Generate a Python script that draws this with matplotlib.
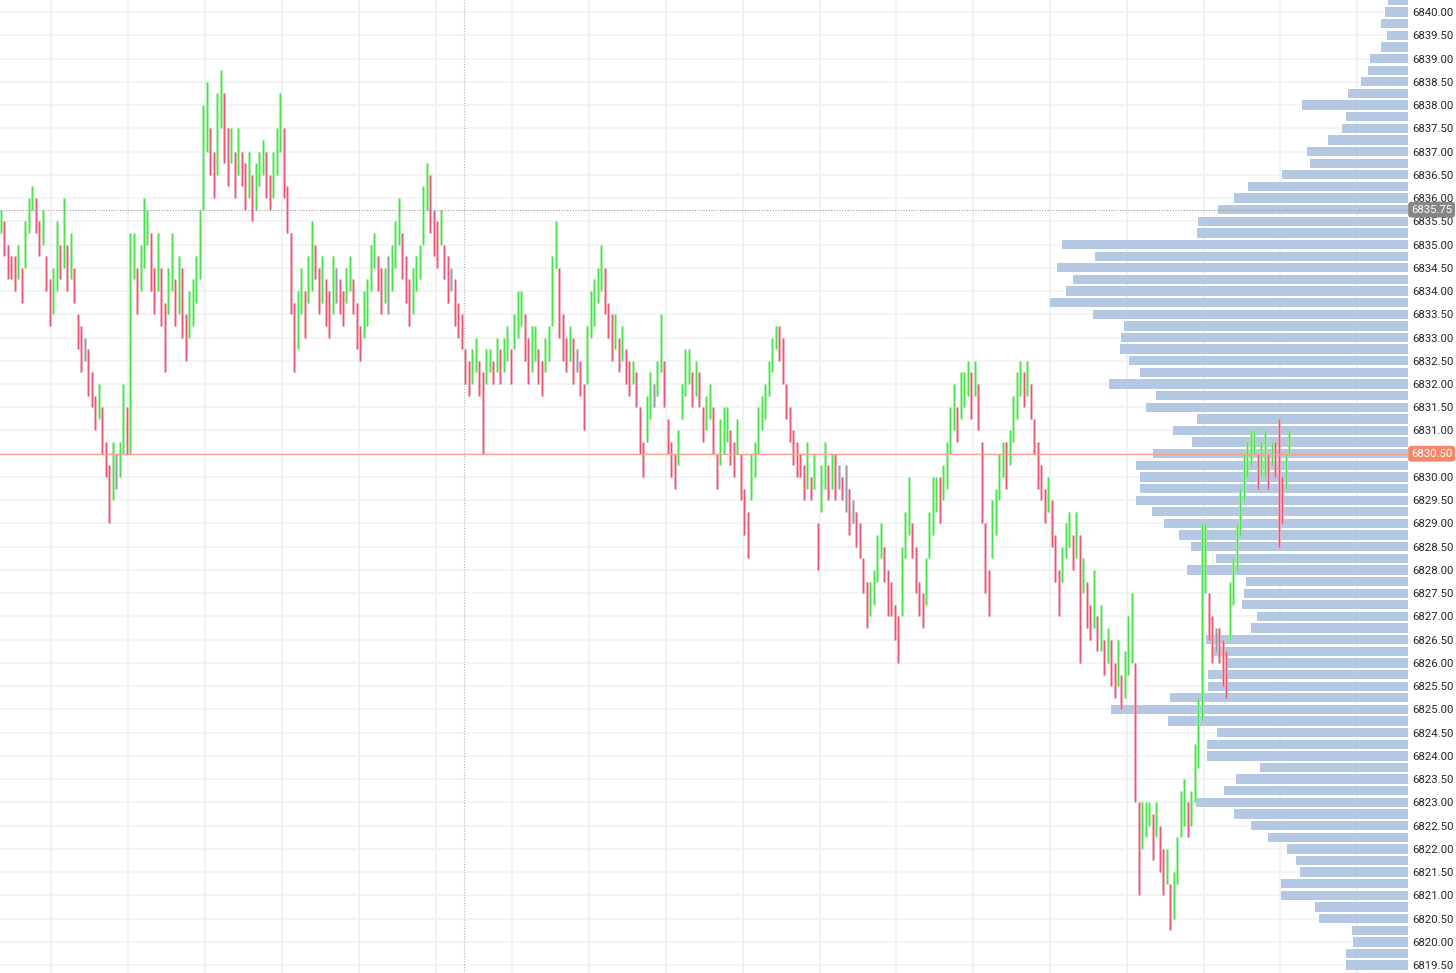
import numpy as np
import matplotlib.pyplot as plt
from matplotlib import transforms

plt.rcParams['font.family'] = ['Roboto', 'DejaVu Sans']

# range bars: low / high of every bar, left to right
bar_low = [
    6835.25, 6834.75, 6834.25, 6834.25, 6834.0, 6834.25, 6833.75, 6834.5, 6835.25, 6835.75,
    6835.25, 6834.75, 6835.0, 6834.0, 6833.25, 6833.5, 6834.0, 6834.25, 6834.5, 6834.0,
    6834.25, 6833.75, 6832.75, 6832.25, 6832.5, 6831.75, 6831.5, 6831.0, 6831.25, 6830.5,
    6830.0, 6829.0, 6829.5, 6829.75, 6830.0, 6830.5, 6830.5, 6830.5, 6834.25, 6833.5,
    6834.0, 6834.5, 6835.0, 6834.0, 6833.5, 6834.0, 6833.25, 6832.25, 6833.5, 6834.0,
    6833.25, 6833.5, 6833.0, 6832.5, 6833.0, 6833.25, 6833.75, 6834.25, 6835.75, 6837.0,
    6836.5, 6836.0, 6836.5, 6837.5, 6836.75, 6836.25, 6836.75, 6836.0, 6836.5, 6836.25,
    6835.75, 6836.0, 6835.5, 6835.75, 6836.25, 6836.5, 6836.0, 6835.75, 6836.0, 6836.5,
    6837.0, 6836.0, 6835.25, 6833.5, 6832.25, 6832.75, 6833.5, 6833.0, 6833.75, 6834.0,
    6834.25, 6833.5, 6833.75, 6833.25, 6833.0, 6833.5, 6833.75, 6833.5, 6833.25, 6833.75,
    6834.0, 6833.5, 6832.75, 6832.5, 6833.0, 6833.25, 6834.0, 6834.5, 6834.0, 6833.5,
    6833.75, 6833.5, 6834.0, 6834.5, 6835.0, 6834.25, 6833.75, 6833.25, 6833.5, 6834.0,
    6834.25, 6835.0, 6835.75, 6835.25, 6834.75, 6834.5, 6835.0, 6834.25, 6833.75, 6834.0,
    6833.25, 6833.0, 6832.75, 6832.0, 6831.75, 6832.0, 6832.25, 6831.75, 6830.5, 6832.0,
    6832.25, 6832.0, 6832.25, 6832.0, 6832.25, 6832.5, 6832.0, 6832.75, 6833.0, 6833.25,
    6832.5, 6832.0, 6832.25, 6832.5, 6832.0, 6831.75, 6832.25, 6832.5, 6833.25, 6834.5,
    6833.0, 6832.5, 6832.25, 6832.5, 6832.0, 6832.25, 6831.75, 6831.0, 6832.0, 6833.0,
    6833.25, 6833.75, 6834.0, 6833.5, 6833.0, 6832.5, 6832.75, 6832.25, 6832.5, 6832.0,
    6831.75, 6832.0, 6831.5, 6830.5, 6830.0, 6830.75, 6831.25, 6831.5, 6831.75, 6832.25,
    6831.5, 6830.5, 6830.0, 6829.75, 6830.25, 6831.25, 6831.75, 6832.0, 6831.5, 6831.75,
    6831.5, 6830.75, 6831.0, 6831.25, 6830.5, 6829.75, 6830.25, 6830.5, 6830.75, 6830.25,
    6830.0, 6830.5, 6829.5, 6828.75, 6828.25, 6829.5, 6830.0, 6830.5, 6831.0, 6831.25,
    6831.75, 6832.25, 6832.75, 6832.5, 6832.0, 6831.25, 6830.75, 6830.25, 6830.0, 6830.0,
    6829.5, 6829.75, 6829.5, 6829.75, 6828.0, 6829.25, 6829.75, 6829.5, 6829.75, 6829.5,
    6829.75, 6829.5, 6829.25, 6828.75, 6829.0, 6828.5, 6828.25, 6827.5, 6826.75, 6827.0,
    6827.25, 6827.75, 6828.25, 6827.75, 6827.0, 6827.0, 6826.5, 6826.0, 6827.0, 6828.25,
    6828.75, 6828.25, 6827.5, 6827.0, 6826.75, 6827.25, 6828.25, 6828.75, 6829.25, 6829.0,
    6829.5, 6829.75, 6830.5, 6831.0, 6830.75, 6831.25, 6831.5, 6831.75, 6831.25, 6831.75,
    6831.0, 6829.0, 6827.5, 6827.0, 6828.25, 6828.75, 6829.5, 6830.0, 6829.75, 6830.25,
    6830.75, 6831.25, 6831.75, 6831.5, 6831.75, 6831.25, 6830.5, 6829.75, 6829.5, 6829.0,
    6829.25, 6828.5, 6827.75, 6827.0, 6827.75, 6828.25, 6828.5, 6828.0, 6828.25, 6826.0,
    6827.5, 6826.75, 6826.5, 6826.75, 6826.25, 6826.25, 6825.75, 6826.0, 6825.5, 6825.25,
    6825.5, 6825.0, 6825.25, 6825.75, 6826.0, 6823.0, 6821.0, 6822.0, 6822.25, 6822.5,
    6821.75, 6822.25, 6821.5, 6821.0, 6821.25, 6820.25, 6820.5, 6821.25, 6822.25, 6822.5,
    6822.25, 6822.5, 6823.0, 6823.75, 6824.75, 6827.5, 6826.5, 6826.0, 6826.25, 6826.0,
    6825.5, 6825.25, 6826.5, 6827.25, 6828.0, 6828.75, 6829.5, 6830.0, 6830.25, 6830.5,
    6829.75, 6830.0, 6830.0, 6829.75, 6830.25, 6830.0, 6828.5, 6829.0, 6829.75, 6830.5,
]
bar_high = [
    6835.75, 6835.5, 6835.0, 6834.75, 6834.75, 6835.0, 6834.5, 6835.5, 6836.0, 6836.25,
    6836.0, 6835.5, 6835.75, 6834.75, 6834.25, 6834.5, 6835.5, 6835.0, 6836.0, 6835.0,
    6835.25, 6834.5, 6833.5, 6833.25, 6833.0, 6832.75, 6832.25, 6831.75, 6832.0, 6831.5,
    6830.75, 6830.25, 6830.75, 6830.5, 6830.75, 6832.0, 6831.5, 6835.25, 6835.25, 6834.5,
    6835.0, 6836.0, 6835.75, 6835.25, 6834.5, 6835.25, 6834.5, 6833.75, 6834.5, 6835.25,
    6834.25, 6834.75, 6834.5, 6833.5, 6834.0, 6834.25, 6834.75, 6835.75, 6838.0, 6838.5,
    6837.5, 6837.0, 6838.25, 6838.75, 6838.25, 6837.5, 6837.5, 6837.0, 6837.5, 6837.0,
    6836.75, 6837.0, 6836.5, 6836.75, 6837.0, 6837.25, 6837.0, 6836.5, 6837.0, 6837.5,
    6838.25, 6837.5, 6836.25, 6835.25, 6833.75, 6834.0, 6834.5, 6834.0, 6834.75, 6835.5,
    6835.0, 6834.5, 6834.75, 6834.25, 6834.0, 6834.75, 6834.5, 6834.25, 6834.0, 6834.5,
    6834.75, 6834.25, 6833.75, 6833.25, 6834.0, 6834.25, 6835.0, 6835.25, 6834.75, 6834.5,
    6834.5, 6834.75, 6835.0, 6835.5, 6836.0, 6835.25, 6834.75, 6834.25, 6834.5, 6834.75,
    6835.0, 6836.25, 6836.75, 6836.5, 6835.75, 6835.5, 6835.75, 6835.0, 6834.75, 6834.5,
    6834.25, 6833.75, 6833.5, 6832.75, 6832.5, 6832.75, 6833.0, 6832.5, 6832.25, 6832.75,
    6832.75, 6832.5, 6833.0, 6832.75, 6833.0, 6833.25, 6832.75, 6833.5, 6834.0, 6834.0,
    6833.5, 6833.0, 6833.25, 6833.25, 6832.75, 6832.5, 6833.0, 6833.25, 6834.75, 6835.5,
    6834.5, 6833.5, 6833.0, 6833.25, 6833.0, 6832.75, 6832.5, 6832.0, 6833.25, 6834.0,
    6834.25, 6834.5, 6835.0, 6834.5, 6833.75, 6833.5, 6833.5, 6833.0, 6833.25, 6832.75,
    6832.5, 6832.5, 6832.25, 6831.5, 6830.75, 6831.75, 6832.25, 6832.0, 6832.5, 6833.5,
    6832.5, 6831.25, 6830.75, 6830.5, 6831.0, 6832.0, 6832.75, 6832.75, 6832.25, 6832.5,
    6832.25, 6831.5, 6831.75, 6832.0, 6831.5, 6830.5, 6831.25, 6831.5, 6831.5, 6831.0,
    6830.75, 6831.25, 6830.5, 6829.75, 6829.25, 6830.5, 6830.75, 6831.5, 6831.75, 6832.0,
    6832.5, 6833.0, 6833.25, 6833.25, 6833.0, 6832.0, 6831.5, 6831.0, 6830.75, 6830.5,
    6830.25, 6830.75, 6830.0, 6830.5, 6829.0, 6830.25, 6830.75, 6830.25, 6830.5, 6830.5,
    6830.25, 6830.0, 6830.25, 6829.75, 6829.5, 6829.25, 6829.0, 6828.25, 6827.75, 6827.75,
    6828.0, 6828.75, 6829.0, 6828.5, 6828.0, 6827.75, 6827.25, 6827.0, 6828.5, 6829.25,
    6830.0, 6829.0, 6828.5, 6827.75, 6827.5, 6828.25, 6829.25, 6830.0, 6830.0, 6830.0,
    6830.25, 6830.75, 6831.5, 6832.0, 6831.5, 6832.25, 6832.25, 6832.5, 6832.25, 6832.5,
    6832.0, 6830.75, 6829.0, 6828.0, 6829.5, 6829.75, 6830.5, 6830.75, 6830.75, 6831.0,
    6831.75, 6832.25, 6832.5, 6832.25, 6832.5, 6832.0, 6831.25, 6830.75, 6830.25, 6829.75,
    6830.0, 6829.5, 6828.75, 6828.0, 6828.5, 6829.0, 6829.25, 6828.75, 6829.25, 6828.75,
    6828.25, 6827.75, 6827.25, 6828.0, 6827.0, 6827.25, 6826.5, 6826.75, 6826.5, 6826.0,
    6826.5, 6825.75, 6826.25, 6827.0, 6827.5, 6826.0, 6823.0, 6823.0, 6823.0, 6823.0,
    6822.75, 6823.0, 6822.5, 6822.0, 6822.0, 6821.25, 6821.5, 6822.25, 6823.25, 6823.5,
    6823.0, 6823.25, 6824.25, 6825.25, 6829.0, 6829.0, 6827.5, 6827.0, 6826.75, 6826.75,
    6826.5, 6826.25, 6827.75, 6828.25, 6829.0, 6829.75, 6830.5, 6830.75, 6831.0, 6831.0,
    6830.5, 6830.75, 6831.0, 6830.5, 6830.75, 6830.75, 6831.25, 6830.0, 6830.5, 6831.0,
]

# volume profile, one row per 0.25 tick from 6840.25 down to 6819.50
vp_price = np.arange(6840.25, 6819.4, -0.25)
vp_volume = [
    20, 23, 27, 21, 27, 38, 40, 47, 60, 106,
    62, 66, 80, 101, 98, 126, 160, 174, 190, 210,
    211, 346, 313, 351, 335, 342, 358, 315, 284, 287,
    288, 279, 268, 299, 252, 262, 211, 235, 216, 255,
    272, 268, 268, 272, 256, 244, 229, 217, 192, 221,
    162, 164, 166, 151, 157, 202, 197, 182, 200, 200,
    238, 297, 240, 191, 201, 201, 148, 172, 184, 212,
    174, 157, 140, 121, 112, 108, 127, 127, 93, 89,
    56, 55, 62, 62,
]

last_price = 6830.50
cross_price = 6835.75
cross_bar = 132.66
price_ticks = np.arange(6819.5, 6840.01, 0.5)
time_grid = np.arange(14.5, 400, 22)

lo = np.array(bar_low)
hi = np.array(bar_high)
idx = np.arange(len(lo))
mid = (lo + hi) / 2
step = np.sign(np.diff(mid, prepend=mid[0] - 0.25))
light = np.where(step > 0, '#96ef96', np.where(step < 0, '#f5a0b0', '#bcbfc7'))
strong = np.where(step > 0, '#2ee42e', np.where(step < 0, '#ea3f63', '#8e929c'))

fig = plt.figure(figsize=(14.56, 9.73), dpi=100)
rect = [0, 0, 1408 / 1456, 1]
axv = fig.add_axes(rect)
ax = fig.add_axes(rect)
ax.patch.set_visible(False)

ylim = (6819.33, 6840.26)
axv.set_ylim(*ylim)
ax.set_ylim(*ylim)
ax.set_xlim(-0.25, 403.07)
axv.set_xlim(1408, 0)

# grid (under the profile)
for p in price_ticks:
    axv.axhline(p, color='#f0f1f3', lw=1.1, zorder=0)
tr = transforms.blended_transform_factory(ax.transData, axv.transAxes)
axv.vlines(time_grid, 0, 1, transform=tr, color='#f0f1f3', lw=1.3, zorder=0)

axv.barh(vp_price, vp_volume, height=0.2, left=0, color='#b4c7e3', zorder=2)

# bars
ax.vlines(idx, lo, hi, colors=light, lw=1.9, zorder=3)
ax.vlines(idx, lo, hi, colors=strong, lw=0.55, zorder=3)

ax.axhline(last_price, color='#f7a592', lw=1.0, zorder=4)
ax.axhline(cross_price, color='#9a9a9a', lw=0.8, ls=(0, (1, 1.5)), zorder=4)
ax.axvline(cross_bar, color='#b0b0b0', lw=0.8, ls=(0, (1, 1.5)), zorder=4)

for a in (ax, axv):
    for s in a.spines.values():
        s.set_visible(False)
axv.set_xticks([])
axv.set_yticks([])
ax.set_xticks([])
ax.yaxis.tick_right()
ax.set_yticks(price_ticks)
ax.set_yticklabels([f'{p:.2f}' for p in price_ticks])
ax.tick_params(axis='y', length=0, pad=3, labelsize=8.2, labelcolor='#262626')

lbl = transforms.blended_transform_factory(ax.transAxes, ax.transData)
ax.text(1.0 + 3 / 1408, last_price, f'{last_price:.2f}', transform=lbl, va='center', ha='left',
        color='white', fontsize=8.2, zorder=6,
        bbox=dict(boxstyle='round,pad=0.25', fc='#f5866b', ec='none'))
ax.text(1.0 + 3 / 1408, cross_price, f'{cross_price:.2f}', transform=lbl, va='center', ha='left',
        color='white', fontsize=8.2, zorder=6,
        bbox=dict(boxstyle='round,pad=0.25', fc='#878787', ec='none'))

fig.savefig('out.png', dpi=100, facecolor='white')
